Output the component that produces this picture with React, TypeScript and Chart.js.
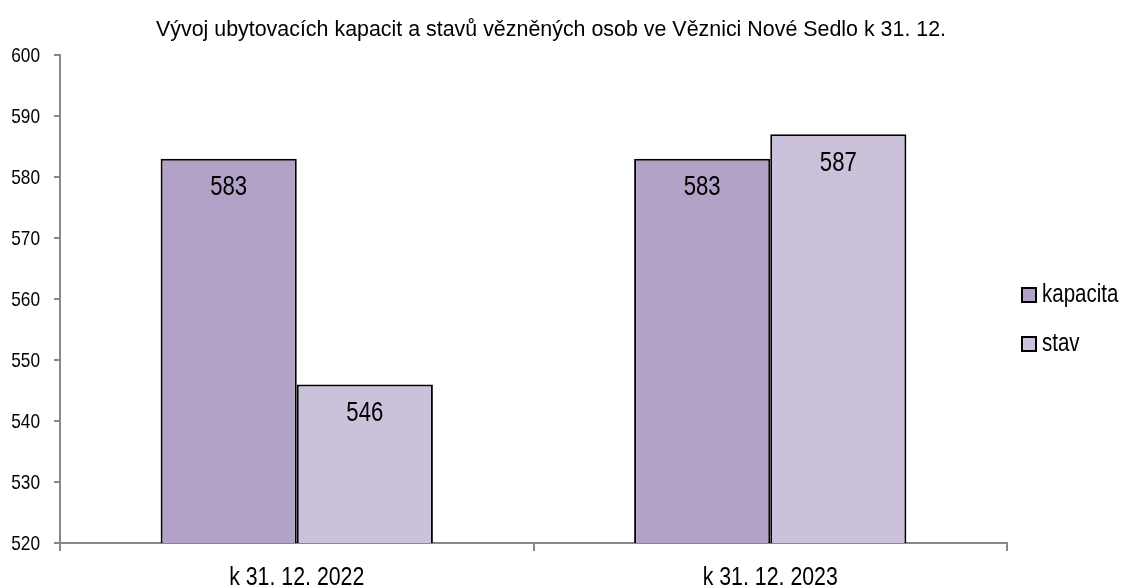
import React, { useEffect, useRef } from "react";
import { Chart, registerables } from "chart.js";

Chart.register(...registerables);

const TITLE = "Vývoj ubytovacích kapacit a stavů vězněných osob ve Věznici Nové Sedlo k 31. 12.";
const categories = ["k 31. 12. 2022", "k 31. 12. 2023"];
const kapacita = [583, 583];
const stav = [546, 587];
const seriesNames = ["kapacita", "stav"];
const seriesColors = ["#B2A2C8", "#CBC1DB"];
const yMin = 520;
const yMax = 600;
const yStep = 10;

const FONT = "'Liberation Sans', Arial, sans-serif";
const NARROW = 0.82;

function drawText(ctx: CanvasRenderingContext2D, text: string, x: number, y: number, size: number, align: CanvasTextAlign, baseline: CanvasTextBaseline, sx: number) {
  ctx.save();
  ctx.translate(x, y);
  ctx.scale(sx, 1);
  ctx.font = `${size}px ${FONT}`;
  ctx.textAlign = align;
  ctx.textBaseline = baseline;
  ctx.fillStyle = "#000";
  ctx.fillText(text, 0, 0);
  ctx.restore();
}

const overlayPlugin = {
  id: "overlay",
  afterDraw(chart: any) {
    const ctx = chart.ctx;
    const area = chart.chartArea;
    // title
    drawText(ctx, TITLE, 551, 30, 22, "center", "middle", 0.973);
    // y tick labels
    const ys = chart.scales.y;
    ys.ticks.forEach((t: any) => {
      drawText(ctx, String(t.label), area.left - 20, ys.getPixelForValue(t.value) + 1, 21, "right", "middle", NARROW);
    });
    // x tick labels
    const xs = chart.scales.x;
    const labels = chart.data.labels as string[];
    labels.forEach((lab, i) => {
      drawText(ctx, lab, xs.getPixelForValue(i), area.bottom + 42, 26, "center", "alphabetic", NARROW);
    });
    // data labels
    chart.data.datasets.forEach((ds: any, i: number) => {
      const meta = chart.getDatasetMeta(i);
      meta.data.forEach((el: any, j: number) => {
        drawText(ctx, String(ds.data[j]), el.x, el.y + 29, 27, "center", "middle", NARROW);
      });
    });
    // legend
    const lx = area.right + 15;
    const ly0 = 295;
    chart.data.datasets.forEach((ds: any, i: number) => {
      const y = ly0 + i * 49;
      ctx.save();
      ctx.fillStyle = ds.backgroundColor;
      ctx.fillRect(lx, y - 7, 14, 14);
      ctx.lineWidth = 2;
      ctx.strokeStyle = "#000";
      ctx.strokeRect(lx, y - 7, 14, 14);
      ctx.restore();
      drawText(ctx, ds.label, lx + 20, y, 25, "left", "middle", NARROW);
    });
  },
};

export default function App() {
  const ref = useRef<HTMLCanvasElement | null>(null);
  useEffect(() => {
    document.body.style.margin = "0";
    const chart = new Chart(ref.current as HTMLCanvasElement, {
      type: "bar",
      data: {
        labels: categories,
        datasets: [
          {
            label: seriesNames[0],
            data: kapacita,
            backgroundColor: seriesColors[0],
            borderColor: "#000",
            borderWidth: 2,
            borderSkipped: false,
          },
          {
            label: seriesNames[1],
            data: stav,
            backgroundColor: seriesColors[1],
            borderColor: "#000",
            borderWidth: 2,
            borderSkipped: false,
          },
        ],
      },
      options: {
        animation: false,
        responsive: false,
        maintainAspectRatio: false,
        datasets: { bar: { categoryPercentage: 0.575, barPercentage: 1 } },
        layout: { padding: { top: 55, right: 120, left: 0, bottom: 0 } },
        plugins: {
          legend: { display: false },
          title: { display: false },
          tooltip: { enabled: false },
        },
        scales: {
          x: {
            z: 1,
            offset: true,
            grid: {
              offset: true,
              drawOnChartArea: false,
              drawTicks: true,
              tickLength: 8,
              color: "#888888",
              lineWidth: 2,
            },
            border: { display: true, color: "#888888", width: 2 },
            ticks: { display: false },
            afterFit(scale: any) {
              scale.height = 45;
            },
          },
          y: {
            min: yMin,
            max: yMax,
            grid: {
              drawOnChartArea: false,
              drawTicks: true,
              tickLength: 6,
              color: "#888888",
              lineWidth: 2,
            },
            border: { display: true, color: "#888888", width: 2 },
            ticks: { display: false, stepSize: yStep },
            afterFit(scale: any) {
              scale.width = 60;
            },
          },
        },
      },
      plugins: [overlayPlugin],
    } as any);
    return () => chart.destroy();
  }, []);
  return (
    <div style={{ position: "absolute", left: 0, top: 0, width: 1127, height: 588 }}>
      <canvas ref={ref} width={1127} height={588} style={{ width: 1127, height: 588 }} />
    </div>
  );
}
